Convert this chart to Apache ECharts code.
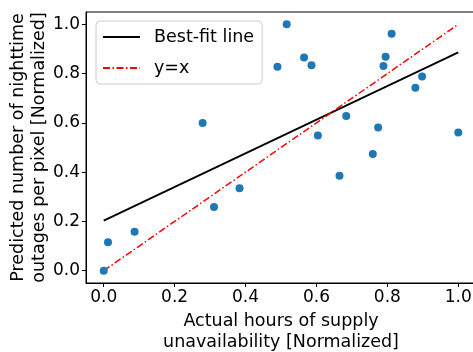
<!DOCTYPE html>
<html>
<head>
<meta charset="utf-8">
<script src="https://cdn.jsdelivr.net/npm/echarts@6/dist/echarts.min.js"></script>
</head>
<body style="margin:0;padding:0;background:#fff">
<div id="chart" style="width:473px;height:352px;"></div>
<script>
// scatter points
var actualX = [0.0, 0.012, 0.087, 0.279, 0.311, 0.383, 0.490, 0.516, 0.565, 0.586, 0.604,
  0.665, 0.684, 0.759, 0.774, 0.789, 0.795, 0.812, 0.879, 0.898, 1.0];
var predictedY = [0.0, 0.115, 0.158, 0.599, 0.258, 0.335, 0.828, 1.0, 0.865, 0.834, 0.549,
  0.385, 0.628, 0.474, 0.581, 0.831, 0.868, 0.962, 0.743, 0.788, 0.561];
var fitX = [0, 1];
var fitY = [0.203, 0.886];
var identX = [0, 1];
var identY = [0, 1];
var tickValues = [0, 0.2, 0.4, 0.6, 0.8, 1.0];

function pairs(xs, ys) {
  return xs.map(function (x, i) { return [x, ys[i]]; });
}

var font = 'DejaVu Sans';
var chart = echarts.init(document.getElementById('chart'));

function axis(name, gap, rotate) {
  return {
    type: 'value',
    min: -0.05,
    max: 1.05,
    name: name,
    nameLocation: 'middle',
    nameGap: gap,
    nameRotate: rotate,
    nameMoveOverlap: false,
    nameTextStyle: { fontFamily: font, fontSize: 17.5, color: '#000', lineHeight: 21 },
    splitLine: { show: false },
    axisLine: { show: true, onZero: false, lineStyle: { color: '#000', width: 1 } },
    axisTick: {
      show: true, inside: false, length: 4, customValues: tickValues,
      lineStyle: { color: '#000', width: 1 }
    },
    axisLabel: {
      customValues: tickValues, margin: 6,
      fontFamily: font, fontSize: 17, color: '#000',
      formatter: function (v) { return v.toFixed(1); }
    }
  };
}

chart.setOption({
  animation: false,
  grid: {
    left: 86, top: 12, right: -3, bottom: 69,
    outerBoundsMode: 'none', containLabel: false,
    show: true, borderColor: '#000', borderWidth: 1, backgroundColor: 'transparent'
  },
  xAxis: axis('Actual hours of supply\nunavailability [Normalized]', 28, 0),
  yAxis: axis('Predicted number of nighttime\noutages per pixel [Normalized]', 36, 90),
  legend: {
    orient: 'vertical',
    left: 96, top: 21,
    padding: [7, 8, 7, 6],
    itemWidth: 37, itemHeight: 14, itemGap: 13,
    backgroundColor: 'rgba(255,255,255,0.8)',
    borderColor: '#ccc', borderWidth: 1, borderRadius: 4,
    itemStyle: { opacity: 0 },
    textStyle: { fontFamily: font, fontSize: 17.5, color: '#000', padding: [0, 0, 0, 9] },
    data: ['Best-fit line', 'y=x']
  },
  series: [
    {
      name: 'points', type: 'scatter', symbolSize: 8,
      itemStyle: { color: '#1f77b4', opacity: 1 },
      data: pairs(actualX, predictedY), z: 3
    },
    {
      name: 'Best-fit line', type: 'line', symbol: 'none',
      lineStyle: { color: '#000', width: 1.8 },
      itemStyle: { color: '#000' },
      data: pairs(fitX, fitY), z: 2
    },
    {
      name: 'y=x', type: 'line', symbol: 'none',
      lineStyle: { color: '#ff0000', width: 1.5, type: [7, 2.5, 1.5, 2.5] },
      itemStyle: { color: '#ff0000' },
      data: pairs(identX, identY), z: 2
    }
  ]
});
</script>
</body>
</html>
